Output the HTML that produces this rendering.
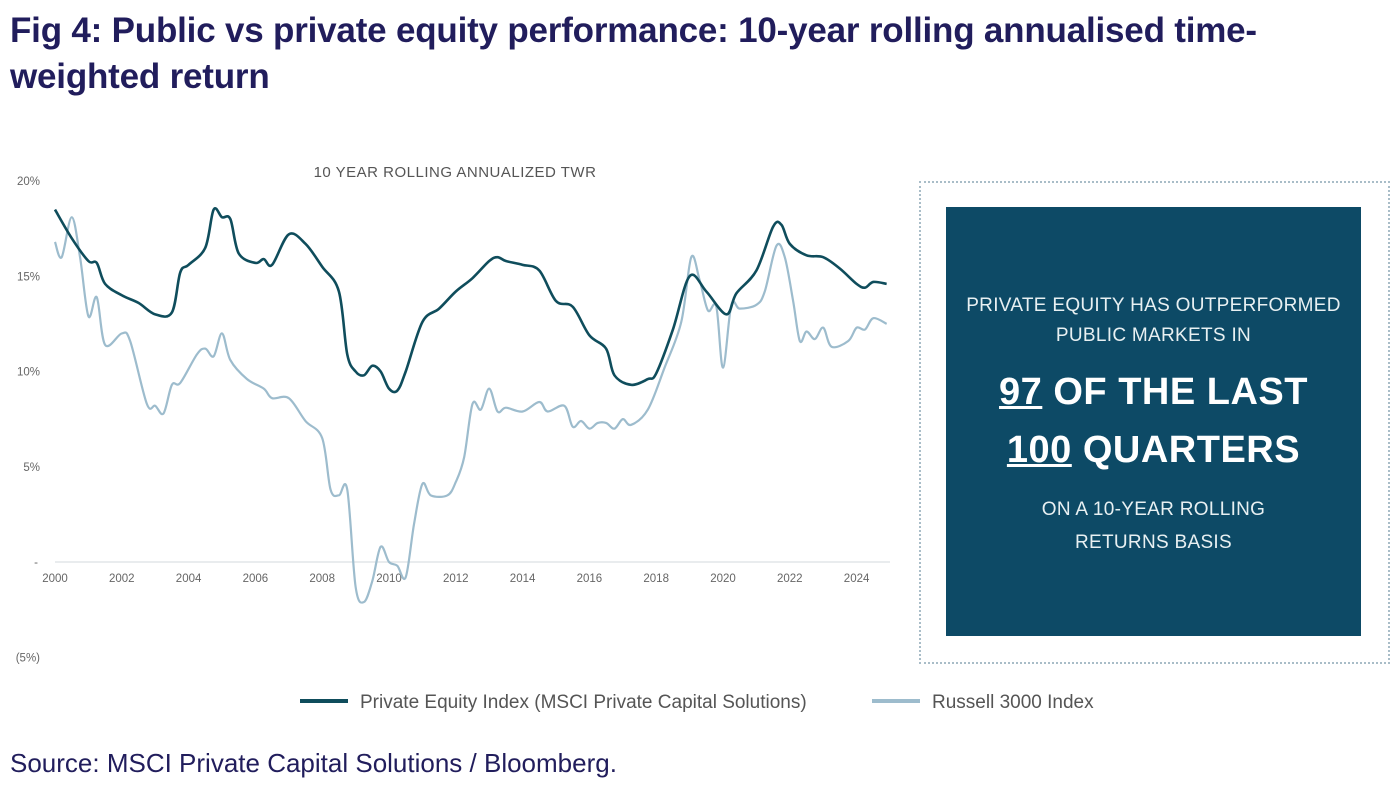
<!DOCTYPE html>
<html><head><meta charset="utf-8"><style>
body{margin:0;width:1392px;height:788px;background:#fff;overflow:hidden;position:relative;font-family:"Liberation Sans",sans-serif}
#title{position:absolute;left:10px;top:8px;width:1265px;font-size:35px;font-weight:bold;color:#211d5c;line-height:46px;letter-spacing:-0.2px}
#src{position:absolute;left:10px;top:748px;font-size:26px;color:#211d5c}
#outer{position:absolute;left:919px;top:181px;width:467px;height:479px;border:2px dotted #a9bdc8}
#inner{position:absolute;left:946px;top:207px;width:415px;height:429px;background:#0d4a66;color:#fff;text-align:center}
.s{font-size:19px;line-height:30px;letter-spacing:0.3px;color:#e8f0f2}
.b{font-size:38px;font-weight:bold;line-height:58px;letter-spacing:0.5px}
</style></head><body>
<div id="title">Fig 4: Public vs private equity performance: 10-year rolling annualised time-weighted return</div>
<svg id="chart" width="1392" height="788" style="position:absolute;left:0;top:0"></svg>
<div id="outer"></div>
<div id="inner">
<div class="s" style="margin-top:84px">PRIVATE EQUITY HAS OUTPERFORMED<br>PUBLIC MARKETS IN</div>
<div class="b" style="margin-top:12px"><u>97</u> OF THE LAST<br><u>100</u> QUARTERS</div>
<div class="s" style="margin-top:14px;line-height:33px">ON A 10-YEAR ROLLING<br>RETURNS BASIS</div>
</div>
<div id="src">Source: MSCI Private Capital Solutions / Bloomberg.</div>
<script>
const yTicks=[20,15,10,5,0,-5];
const yTickLabels=["20%","15%","10%","5%","-","(5%)"];
const xTicks=[2000,2002,2004,2006,2008,2010,2012,2014,2016,2018,2020,2022,2024];
const peDates=[2000,2000.5,2001,2001.25,2001.5,2002,2002.5,2003,2003.5,2003.75,2004,2004.5,2004.75,2005,2005.25,2005.5,2006,2006.25,2006.5,2007,2007.5,2008,2008.5,2008.75,2009,2009.25,2009.5,2009.75,2010,2010.25,2010.5,2011,2011.5,2012,2012.5,2013,2013.25,2013.5,2014,2014.5,2015,2015.5,2016,2016.5,2016.75,2017.25,2017.75,2018,2018.5,2019,2019.5,2020.1,2020.4,2021,2021.5,2021.75,2022,2022.5,2023,2023.5,2024,2024.25,2024.5,2024.9];
const peValues=[18.5,17.0,15.8,15.7,14.6,14.0,13.6,13.0,13.1,15.2,15.6,16.5,18.5,18.1,18.0,16.2,15.7,15.9,15.6,17.2,16.7,15.5,14.2,10.9,10.0,9.8,10.3,10.0,9.1,9.0,10.0,12.6,13.3,14.2,14.9,15.8,16.0,15.8,15.6,15.3,13.7,13.4,11.9,11.2,9.8,9.3,9.6,9.9,12.2,15.0,14.2,13.0,14.1,15.3,17.6,17.7,16.7,16.1,16.0,15.4,14.6,14.4,14.7,14.6];
const r3Dates=[2000,2000.2,2000.5,2000.75,2001,2001.25,2001.5,2002,2002.25,2002.75,2003,2003.25,2003.5,2003.75,2004.25,2004.5,2004.75,2005,2005.25,2005.75,2006.25,2006.5,2007,2007.5,2008,2008.25,2008.5,2008.75,2009,2009.25,2009.5,2009.75,2010,2010.25,2010.5,2010.75,2011,2011.25,2011.75,2012,2012.25,2012.5,2012.75,2013,2013.25,2013.5,2014,2014.5,2014.75,2015.25,2015.5,2015.75,2016,2016.25,2016.5,2016.75,2017,2017.25,2017.75,2018.25,2018.75,2019.05,2019.3,2019.55,2019.8,2020.0,2020.25,2020.5,2021,2021.25,2021.6,2021.85,2022.1,2022.3,2022.5,2022.75,2023,2023.25,2023.75,2024,2024.25,2024.5,2024.9];
const r3Values=[16.8,16.0,18.1,16.0,12.9,13.9,11.4,12.0,11.6,8.3,8.2,7.8,9.3,9.4,10.9,11.2,10.8,12.0,10.6,9.6,9.1,8.6,8.6,7.4,6.5,3.8,3.5,3.8,-1.3,-2.1,-1.0,0.8,0.0,-0.2,-0.8,2.0,4.1,3.5,3.5,4.2,5.5,8.3,8.0,9.1,7.9,8.1,7.9,8.4,7.9,8.2,7.1,7.4,7.0,7.3,7.3,7.0,7.5,7.2,8.0,10.2,12.6,16.0,14.8,13.2,13.4,10.2,13.5,13.3,13.5,14.2,16.6,16.0,13.7,11.6,12.1,11.7,12.3,11.3,11.6,12.3,12.2,12.8,12.5];
const NS='http://www.w3.org/2000/svg';
const svg=document.getElementById('chart');
const X=d=>55+33.4*(d-2000);
const Y=v=>562-19.05*v;
function mk(t,a,txt){const e=document.createElementNS(NS,t);for(const k in a)e.setAttribute(k,a[k]);if(txt!==undefined)e.textContent=txt;svg.appendChild(e);return e;}
const ct=mk('text',{x:455,y:177,'text-anchor':'middle','font-size':15,fill:'#555','letter-spacing':'0.5'},'10 YEAR ROLLING ANNUALIZED TWR');


const zl=mk('line',{x1:55,x2:890,y1:Y(0),y2:Y(0),stroke:'#e2e6e8','stroke-width':1.5});


yTicks.forEach((v,i)=>{const t=mk('text',{x:i==4?38:40,y:Y(v)+4,'text-anchor':'end','font-size':11.5,fill:'#666'},yTickLabels[i]);

});
xTicks.forEach(d=>{const t=mk('text',{x:X(d),y:582,'text-anchor':'middle','font-size':11.5,fill:'#666'},String(d));

});
function path(ds,vs){const p=ds.map((d,i)=>[X(d),Y(vs[i])]);let s='M'+p[0][0]+','+p[0][1];
for(let i=0;i<p.length-1;i++){const p0=p[i-1]||p[i],p1=p[i],p2=p[i+1],p3=p[i+2]||p2;
s+=' C'+(p1[0]+(p2[0]-p0[0])/6)+','+(p1[1]+(p2[1]-p0[1])/6)+' '+(p2[0]-(p3[0]-p1[0])/6)+','+(p2[1]-(p3[1]-p1[1])/6)+' '+p2[0]+','+p2[1];}return s;}
const l2=mk('path',{d:path(r3Dates,r3Values),fill:'none',stroke:'#9dbccd','stroke-width':2.2});


const l1=mk('path',{d:path(peDates,peValues),fill:'none',stroke:'#0f4d5c','stroke-width':2.6});


const lg1=mk('line',{x1:300,x2:348,y1:701,y2:701,stroke:'#0f4d5c','stroke-width':4});


const lt1=mk('text',{x:360,y:708,'font-size':19,fill:'#555'},'Private Equity Index (MSCI Private Capital Solutions)');


const lg2=mk('line',{x1:872,x2:920,y1:701,y2:701,stroke:'#9dbccd','stroke-width':4});


const lt2=mk('text',{x:932,y:708,'font-size':19,fill:'#555'},'Russell 3000 Index');


</script>
</body></html>
